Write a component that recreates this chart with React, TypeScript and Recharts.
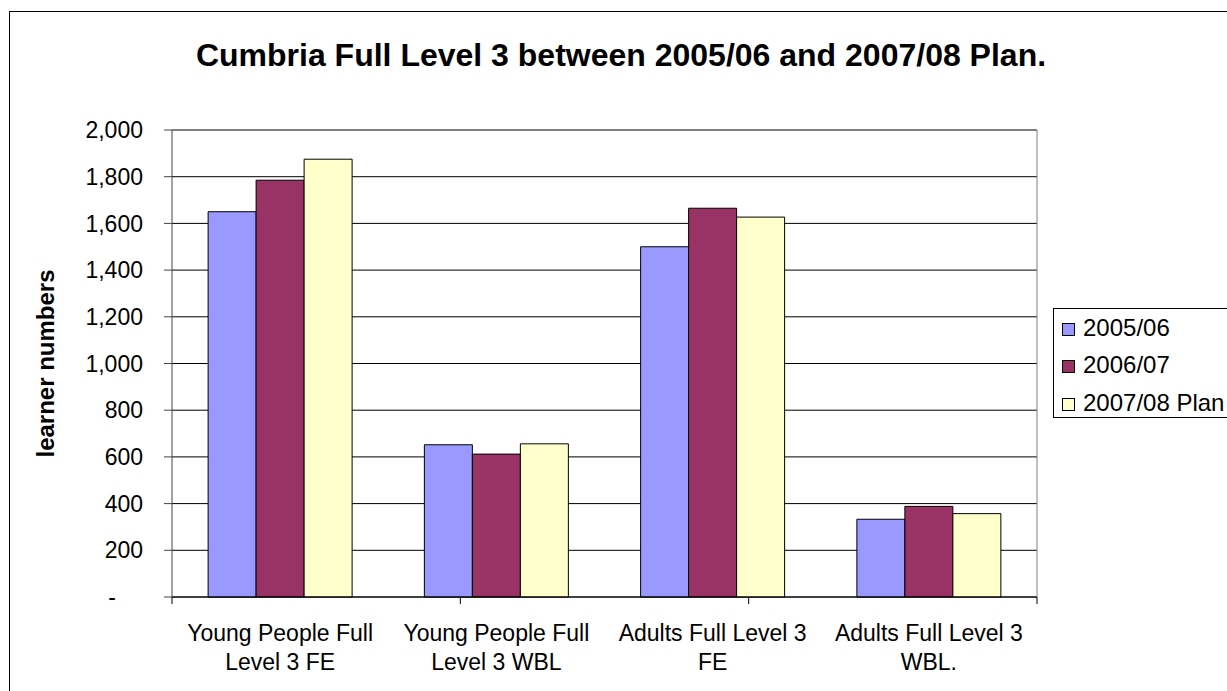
import { BarChart, Bar, XAxis, YAxis, CartesianGrid } from "recharts";

const categories = [
  "Young People Full\nLevel 3 FE",
  "Young People Full\nLevel 3 WBL",
  "Adults Full Level 3\nFE",
  "Adults Full Level 3\nWBL.",
];
const v2005 = [1650, 652, 1500, 333];
const v2006 = [1785, 612, 1665, 388];
const v2007 = [1875, 656, 1627, 357];
const seriesNames = ["2005/06", "2006/07", "2007/08 Plan"];
const seriesColors = ["#9999FF", "#993366", "#FFFFCC"];
const yTicks = [0, 200, 400, 600, 800, 1000, 1200, 1400, 1600, 1800, 2000];
const boundaryTicks = [0, 1, 2, 3, 4];

const data = categories.map((name, i) => ({
  name,
  a: v2005[i],
  b: v2006[i],
  c: v2007[i],
}));
const keys = ["a", "b", "c"];

const FONT = "'Liberation Sans', Arial, sans-serif";

function YTick(props: any) {
  const { x, y, payload } = props;
  const v = payload.value;
  const label = v === 0 ? "-" : v.toLocaleString("en-US");
  return (
    <text
      x={v === 0 ? x - 27 : x}
      y={y}
      dy="0.355em"
      textAnchor="end"
      fontSize={23}
      fontFamily={FONT}
      fill="#000"
    >
      {label}
    </text>
  );
}

function CatTick(props: any) {
  const { x, y, payload } = props;
  const lines = String(payload.value).split("\n");
  return (
    <text x={x} y={y} textAnchor="middle" fontSize={23} fontFamily={FONT} fill="#000">
      {lines.map((l, i) => (
        <tspan key={i} x={x} dy={i === 0 ? 36 : 29}>
          {l}
        </tspan>
      ))}
    </text>
  );
}

function YLabel(props: any) {
  const vb = props.viewBox || { x: 62, y: 130, width: 110, height: 467 };
  const cx = vb.x - 17;
  const cy = vb.y + vb.height / 2;
  return (
    <text
      x={cx}
      y={cy}
      transform={`rotate(-90, ${cx}, ${cy})`}
      textAnchor="middle"
      dominantBaseline="central"
      fontSize={24}
      fontWeight="bold"
      fontFamily={FONT}
      fill="#000"
    >
      learner numbers
    </text>
  );
}

export default function App() {
  return (
    <div
      style={{
        position: "absolute",
        left: 0,
        top: 0,
        width: 1227,
        height: 691,
        overflow: "hidden",
        background: "#fff",
        fontFamily: FONT,
      }}
    >
      <div
        style={{
          position: "absolute",
          left: 9,
          top: 11,
          width: 1400,
          height: 900,
          border: "1px solid #000",
        }}
      />
      <div
        style={{
          position: "absolute",
          left: 121,
          top: 37,
          width: 1000,
          textAlign: "center",
          fontSize: 32,
          fontWeight: "bold",
          color: "#000",
        }}
      >
        Cumbria Full Level 3 between 2005/06 and 2007/08 Plan.
      </div>
      <div style={{ position: "absolute", left: 0, top: 0 }}>
        <BarChart
          width={1227}
          height={691}
          data={data}
          margin={{ top: 130, right: 189, bottom: 26, left: 62 }}
          barCategoryGap="16.7%"
          barGap={0}
        >
          <CartesianGrid
            vertical={false}
            stroke="#000"
            xAxisId="b_cat"
            yAxisId="l"
          />
          <XAxis
            xAxisId="b_cat"
            dataKey="name"
            height={60}
            tickLine={false}
            axisLine={false}
            tickSize={0}
            tickMargin={0}
            interval={0}
            tick={<CatTick />}
          />
          {/* second axis only for the tick marks between categories */}
          <XAxis
            xAxisId="a_ticks"
            type="number"
            domain={[0, 4]}
            ticks={boundaryTicks}
            interval={0}
            tick={() => <g />}
            height={8}
            tickSize={7}
            axisLine={{ stroke: "#000" }}
            tickLine={{ stroke: "#000" }}
          />
          <YAxis
            yAxisId="l"
            width={110}
            domain={[0, 2000]}
            ticks={yTicks}
            interval={0}
            tickSize={8}
            tickMargin={21}
            axisLine={{ stroke: "#444" }}
            tickLine={{ stroke: "#444" }}
            tick={<YTick />}
            label={{ content: (p: any) => <YLabel {...p} /> }}
          />
          <YAxis
            yAxisId="r"
            orientation="right"
            width={1}
            domain={[0, 2000]}
            tick={false}
            tickLine={false}
            axisLine={{ stroke: "#808080" }}
          />
          {keys.map((k, i) => (
            <Bar
              key={k}
              dataKey={k}
              name={seriesNames[i]}
              xAxisId="b_cat"
              yAxisId="l"
              fill={seriesColors[i]}
              stroke="#000"
              strokeWidth={1}
              isAnimationActive={false}
            />
          ))}
        </BarChart>
      </div>
      <div
        style={{
          position: "absolute",
          left: 1053,
          top: 308,
          width: 220,
          height: 110,
          border: "1px solid #000",
          boxSizing: "border-box",
          background: "#fff",
          paddingLeft: 8,
        }}
      >
        {seriesNames.map((n, i) => (
          <div
            key={n}
            style={{
              height: 37.5,
              display: "flex",
              alignItems: "center",
              fontSize: 24,
              whiteSpace: "nowrap",
            }}
          >
            <span
              style={{
                display: "inline-block",
                width: 11,
                height: 11,
                border: "1px solid #000",
                background: seriesColors[i],
                marginRight: 8,
                marginTop: 3,
              }}
            />
            {n}
          </div>
        ))}
      </div>
    </div>
  );
}
